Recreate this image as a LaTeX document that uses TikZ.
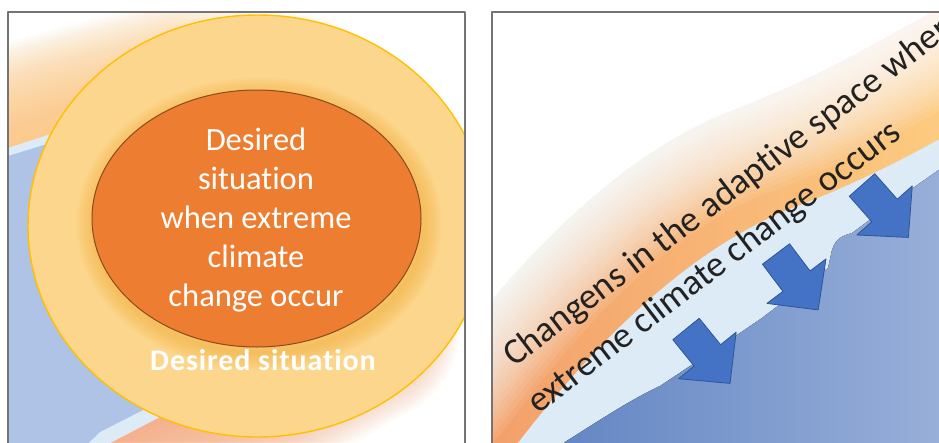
\documentclass[tikz,border=0pt]{standalone}
\usepackage{fontspec}
\setmainfont{Carlito}[Ligatures=NoCommon]
\newfontfamily\spacedfont{Carlito}[LetterSpace=3,Ligatures=NoCommon]
\begin{document}
\begin{tikzpicture}[x=1pt,y=-1pt,line join=round]
\definecolor{framegray}{HTML}{747474}
\definecolor{ringfill}{HTML}{FDD68E}
\definecolor{ringedge}{HTML}{FFC000}
\definecolor{corefill}{HTML}{ED7D31}
\definecolor{coreedge}{HTML}{8C4A1E}
\definecolor{corehalo}{HTML}{F5B443}
\definecolor{paleblue}{HTML}{DDEBF7}
\definecolor{softblue}{HTML}{AEC3E6}
\definecolor{deepblueL}{HTML}{6184C2}
\definecolor{deepblueR}{HTML}{9BB1DA}
\definecolor{arrowblue}{HTML}{4472C4}
\definecolor{arrowedge}{HTML}{2F5597}
\definecolor{glowgold}{HTML}{FBCB86}
\definecolor{glowpeach}{HTML}{F5B087}
\definecolor{bandsalmon}{HTML}{F3A06B}
\definecolor{bandamber}{HTML}{F8B877}
\definecolor{bandgold}{HTML}{FCCB80}
\definecolor{inkdark}{HTML}{222222}

\tikzset{
  panelframe/.style={draw=framegray, line width=1.4pt},
  whitetext/.style={text=white, inner sep=0pt},
  slopetext/.style={text=inkdark, inner sep=0pt, rotate=37.3, anchor=base west,
    font=\fontsize{36.5}{44}\selectfont},
  pics/blockarrow/.style={code={
    \filldraw[fill=arrowblue, draw=arrowedge, line width=0.8pt]
      (0,-17) -- (34,-17) -- (34,-37) -- (70,0) -- (34,37) -- (34,17) -- (0,17) -- cycle;}},
}

\useasboundingbox (0,0) rectangle (939,442);
\fill[white] (0,0) rectangle (939,442);

% ---------- left panel: target rings over the adaptive space
\begin{scope}
  \clip (8,12) rectangle (465,442);
  \path[save path=\rimtop] (-60,168) -- (8,148) -- (60,131) -- (180,100) -- (290,112) -- (345,165) -- (372,250);
  \path[save path=\rimlow] (372,250) -- (360,325) -- (260,380) -- (160,417) -- (112,442) -- (60,480);
  \foreach \k in {1,...,40}{
    \pgfmathsetmacro\lw{5*\k}
    \draw[glowgold, opacity=.05, line width=\lw pt, use path=\rimtop];
    \draw[glowpeach, opacity=.05, line width=\lw pt, use path=\rimlow];
  }
  \fill[paleblue] (-60,168) -- (8,148) -- (60,131) -- (180,100) -- (290,112) -- (345,165) -- (372,250)
    -- (360,325) -- (260,380) -- (160,417) -- (112,442) -- (60,480) -- (-60,480) -- cycle;
  \fill[softblue] (-60,176) -- (8,156) -- (60,140) -- (180,110) -- (280,120) -- (330,168) -- (355,250)
    -- (345,318) -- (250,367) -- (143,410) -- (100,432) -- (50,480) -- (-60,480) -- cycle;

  \filldraw[fill=ringfill, draw=ringedge, line width=1.4pt] (257.5,226) ellipse [x radius=229.5, y radius=211];
  \foreach \k in {1,...,9}{
    \pgfmathsetmacro\lw{4*\k}
    \draw[corehalo, opacity=.09, line width=\lw pt] (259,224) ellipse [x radius=164.5, y radius=128.5];
  }
  \filldraw[fill=corefill, draw=coreedge, line width=1pt] (256.5,218.5) ellipse [x radius=164.5, y radius=128.5];

  \node[whitetext, align=center, font=\fontsize{32.5}{39.2}\selectfont] (coretext) at (256,220)
    {Desired\\situation\\when extreme\\climate\\change occur};
  \node[whitetext, anchor=base, font=\spacedfont\bfseries\fontsize{30}{36}\selectfont] (ringtext) at (263,370)
    {Desired situation};
\end{scope}

% ---------- right panel: the shifting boundary
\begin{scope}
  \clip (492,12) rectangle (939,442);
  \fill[left color=bandsalmon, middle color=bandamber, right color=bandgold] (492,12) rectangle (939,442);
  % white haze that thins out towards the band
  \path[save path=\fadeline] (421,389) -- (441,364) .. controls (516,264) and (616,154) .. (736,109)
    .. controls (806,82) and (856,54) .. (896,32) -- (956,-1);
  \fill[white] (421,389) -- (441,364) .. controls (516,264) and (616,154) .. (736,109)
    .. controls (806,82) and (856,54) .. (896,32) -- (956,-1) -- (959,-40) -- (413,-40) -- cycle;
  \foreach \k in {0,...,35}{
    \pgfmathsetmacro\lw{180*(1-\k/36)^2}
    \draw[white, opacity=.085, line width=\lw pt, use path=\fadeline];
  }
  \fill[paleblue] (480,490) -- (505,460) .. controls (580,360) and (680,250) .. (800,205)
    .. controls (870,178) and (920,150) .. (960,128) -- (960,490) -- cycle;
  \fill[left color=deepblueL, right color=deepblueR] (540,475) -- (565,442)
    .. controls (600,420) and (630,400) .. (660,386) -- (737,335) -- (762,318) -- (828,268)
    -- (832,250) .. controls (836,238) and (842,236) .. (852,233) -- (913,188) -- (960,155)
    -- (960,480) -- cycle;

  \pic[rotate=-51] (arrowA) at (686,329) {blockarrow};
  \pic[rotate=-53] (arrowB) at (776,254) {blockarrow};
  \pic[rotate=-48.5] (arrowC) at (862,185) {blockarrow};

  \node[slopetext] (upperline) at (514,368) {Changens in the adaptive space when};
  \node[slopetext] (lowerline) at (538,415) {extreme climate change occurs};
\end{scope}

\draw[panelframe] (8,450) -- (8,12) -- (465,12) -- (465,450);
\draw[panelframe] (492,450) -- (492,12) -- (950,12);
\end{tikzpicture}
\end{document}
